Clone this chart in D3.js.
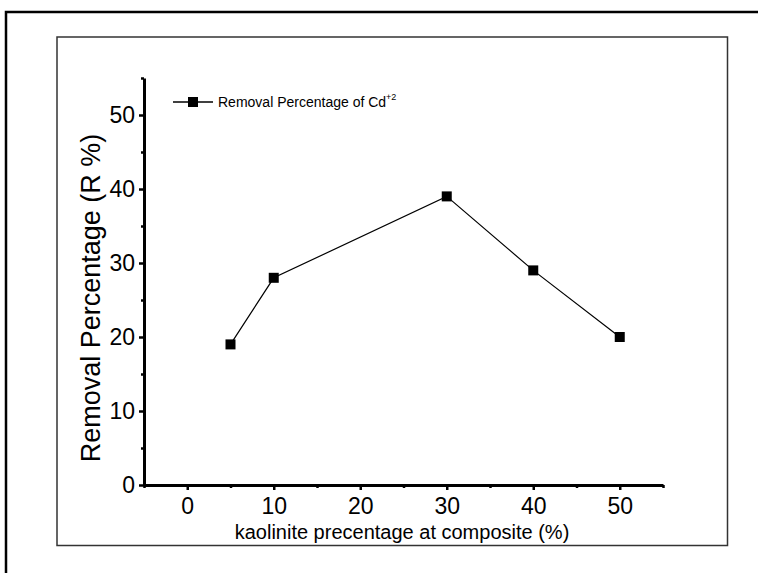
<!DOCTYPE html>
<html>
<head>
<script src="https://d3js.org/d3.v7.min.js"></script>
<title>Removal Percentage of Cd</title>
<style>
  body { margin: 0; background: #fff; }
  svg text { font-family: "Liberation Sans", Arial, Helvetica, sans-serif; fill: #000; }
  .axis path.domain { stroke: #000; stroke-width: 3; }
  .axis line { stroke: #000; stroke-width: 2.5; }
</style>
</head>
<body>
<div id="chart"></div>
<script>
// data
var kaolinite = [5, 10, 30, 40, 50];
var removal = [19, 28, 39, 29, 20];
var xMajor = [0, 10, 20, 30, 40, 50];
var xMinor = [-5, 5, 15, 25, 35, 45, 55];
var yMajor = [0, 10, 20, 30, 40, 50];
var yMinor = [5, 15, 25, 35, 45, 55];
var seriesName = "Removal Percentage of Cd";

var W = 758, H = 573;
var svg = d3.select("#chart").append("svg")
    .attr("width", W)
    .attr("height", H);

// outer frame (right and bottom edges run off the page)
svg.append("rect")
    .attr("x", 6).attr("y", 12)
    .attr("width", 760).attr("height", 580)
    .attr("fill", "none")
    .attr("stroke", "#000")
    .attr("stroke-width", 2.5);

// inner frame
svg.append("rect")
    .attr("x", 57).attr("y", 37)
    .attr("width", 670.5).attr("height", 508.5)
    .attr("fill", "none")
    .attr("stroke", "#333")
    .attr("stroke-width", 1.5);

var x = d3.scaleLinear().domain([-5, 55]).range([144, 663]);
var y = d3.scaleLinear().domain([0, 55]).range([485, 78]);

// minor ticks
svg.append("g")
    .attr("class", "axis")
    .attr("transform", "translate(0," + y(0) + ")")
    .call(d3.axisBottom(x).tickValues(xMinor).tickSize(3).tickFormat(""))
    .select(".domain").remove();

svg.append("g")
    .attr("class", "axis")
    .attr("transform", "translate(" + x(-5) + ",0)")
    .call(d3.axisLeft(y).tickValues(yMinor).tickSize(3).tickFormat(""))
    .select(".domain").remove();

// major axes
var gx = svg.append("g")
    .attr("class", "axis")
    .attr("transform", "translate(0," + y(0) + ")")
    .call(d3.axisBottom(x).tickValues(xMajor).tickSize(5).tickSizeOuter(0).tickPadding(8));
gx.selectAll("text").style("font-size", "23px");

var gy = svg.append("g")
    .attr("class", "axis")
    .attr("transform", "translate(" + x(-5) + ",0)")
    .call(d3.axisLeft(y).tickValues(yMajor).tickSize(5).tickSizeOuter(0).tickPadding(4));
gy.selectAll("text").style("font-size", "23px");

// axis titles
svg.append("text")
    .attr("x", 402).attr("y", 539)
    .attr("text-anchor", "middle")
    .style("font-size", "20px")
    .text("kaolinite precentage at composite (%)");

svg.append("text")
    .attr("transform", "translate(100,298) rotate(-90)")
    .attr("text-anchor", "middle")
    .style("font-size", "27px")
    .text("Removal Percentage (R %)");

// series line
var line = d3.line()
    .x(function(d, i) { return x(kaolinite[i]); })
    .y(function(d) { return y(d); });

svg.append("path")
    .datum(removal)
    .attr("d", line)
    .attr("fill", "none")
    .attr("stroke", "#000")
    .attr("stroke-width", 1.2);

svg.selectAll("rect.pt")
    .data(removal)
    .enter().append("rect")
    .attr("class", "pt")
    .attr("x", function(d, i) { return x(kaolinite[i]) - 5; })
    .attr("y", function(d) { return y(d) - 5; })
    .attr("width", 10)
    .attr("height", 10)
    .attr("fill", "#000");

// legend
var leg = svg.append("g").attr("transform", "translate(173,102)");
leg.append("line")
    .attr("x1", 0).attr("x2", 40)
    .attr("stroke", "#000").attr("stroke-width", 1.5);
leg.append("rect")
    .attr("x", 15).attr("y", -5)
    .attr("width", 10).attr("height", 10)
    .attr("fill", "#000");
var lt = leg.append("text")
    .attr("x", 45).attr("y", 5)
    .style("font-size", "14px")
    .text(seriesName);
lt.append("tspan")
    .attr("dy", -7)
    .style("font-size", "9px")
    .text("+2");
</script>
</body>
</html>
